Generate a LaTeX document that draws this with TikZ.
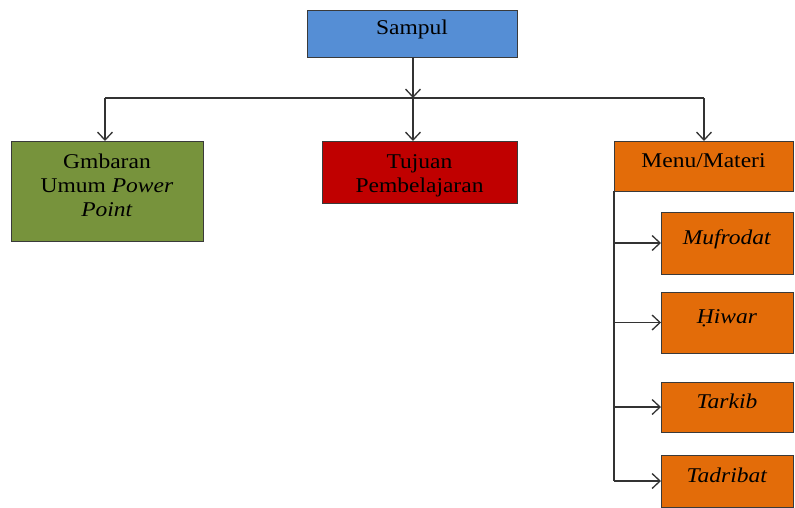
\documentclass[tikz,border=0pt]{standalone}
\usepackage{fontspec}
\setmainfont{Liberation Serif}[FakeStretch=1.12]
\usetikzlibrary{arrows.meta}
\definecolor{cblue}{HTML}{558ED5}
\definecolor{cgreen}{HTML}{77933C}
\definecolor{cred}{HTML}{C00000}
\definecolor{corange}{HTML}{E36C09}
\definecolor{cline}{HTML}{3A3A3A}
\begin{document}
\begin{tikzpicture}[x=1pt,y=-1pt,
  box/.style={draw=cline, line width=1pt, anchor=north west, inner sep=0pt, outer sep=0pt,
    align=center, font=\fontsize{21}{24}\selectfont},
  one/.style={box, text height=15pt, text depth=13pt},
  sub/.style={one, fill=corange, minimum width=132},
  conn/.style={draw=black!80, line width=1.3pt},
  arr/.style={conn, -{Straight Barb[length=8pt,width=15pt,line width=1.3pt]}}]
\useasboundingbox (0,0) rectangle (795,507);
\node[one, fill=cblue, minimum width=210, minimum height=47] (sampul) at (307,10) {Sampul};
\node[box, fill=cgreen, minimum width=192, minimum height=100] (gmb) at (11,141)
  {Gmbaran\\Umum \textit{Power}\\\textit{Point}\\[-13pt]\mbox{}};
\node[box, fill=cred, minimum width=195, minimum height=62] (tuj) at (322,141)
  {\mbox{}\\[-2pt]Tujuan\\Pembelajaran};
\node[one, fill=corange, minimum width=179, minimum height=50] (menu) at (614,141) {Menu/Materi};
\node[sub, minimum height=62] (muf) at (661,212) {\textit{Mufrodat}};
\node[sub, minimum height=61] (hiw) at (661,292) {\textit{\d{H}iwar}};
\node[sub, minimum height=50] (tar) at (661,382) {\textit{Tarkib}};
\node[sub, minimum height=52] (tad) at (661,455) {\textit{Tadribat}};
% bus
\coordinate (j) at (413,98);
\coordinate (busL) at (105,98);
\coordinate (busR) at (704,98);
\draw[arr] (sampul.south -| j) -- (j);
\draw[conn] (busL) -- (busR);
\draw[arr] (busL) -- (busL |- gmb.north);
\draw[arr] (j) -- (j |- tuj.north);
\draw[arr] (busR) -- (busR |- menu.north);
% menu spine
\coordinate (spEnd) at (614,481);
\draw[conn] (menu.south west) -- (spEnd);
\draw[arr] (menu.south west |- muf.west) -- (muf.west);
\draw[arr] (menu.south west |- hiw.west) -- (hiw.west);
\draw[arr] (menu.south west |- tar.west) -- (tar.west);
\draw[arr] (spEnd) -- (spEnd -| tad.west);
\end{tikzpicture}
\end{document}
